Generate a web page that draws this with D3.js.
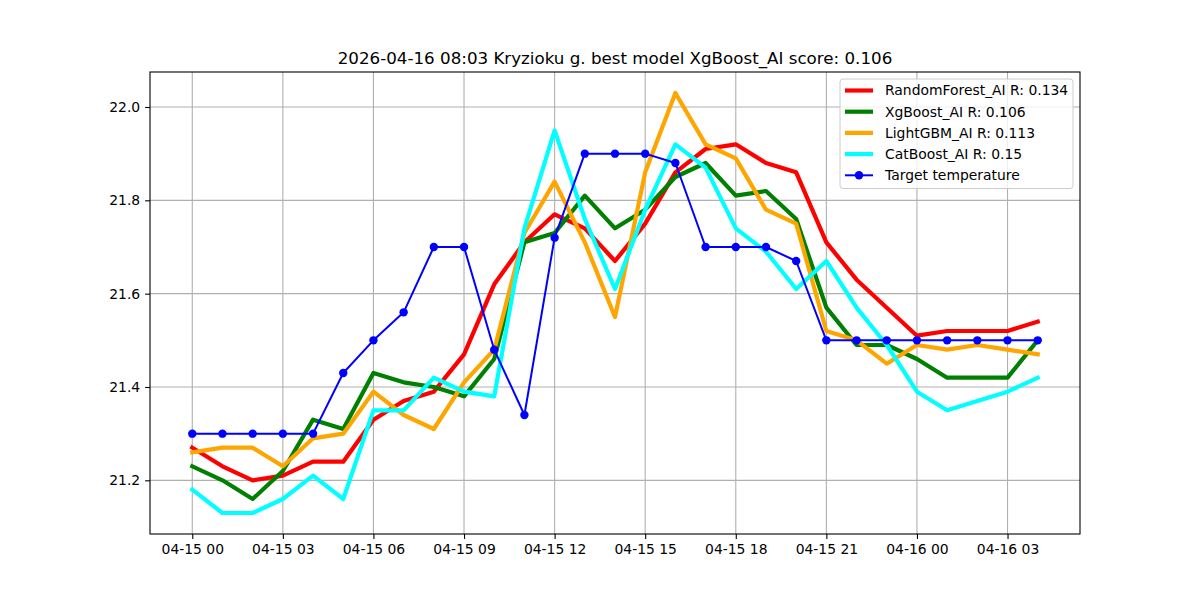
<!DOCTYPE html>
<html>
<head>
<meta charset="utf-8">
<script src="https://cdn.jsdelivr.net/npm/d3@7"></script>
<style>
  body { margin: 0; background: #fff; }
  svg { display: block; font-family: "DejaVu Sans", sans-serif; }
</style>
</head>
<body>
<div id="content"></div>
<script>
const title = '2026-04-16 08:03 Kryzioku g. best model XgBoost_AI score: 0.106'
const startTime = '2026-04-15T00:00:00Z'
const hours = d3.range(29)

const randomForest = [21.27, 21.23, 21.20, 21.21, 21.24, 21.24, 21.33, 21.37, 21.39, 21.47,
    21.62, 21.71, 21.77, 21.74, 21.67, 21.75, 21.86, 21.91, 21.92, 21.88,
    21.86, 21.71, 21.63, 21.57, 21.51, 21.52, 21.52, 21.52, 21.54]
const xgBoost = [21.23, 21.20, 21.16, 21.22, 21.33, 21.31, 21.43, 21.41, 21.40, 21.38,
    21.46, 21.71, 21.73, 21.81, 21.74, 21.78, 21.85, 21.88, 21.81, 21.82,
    21.76, 21.57, 21.49, 21.49, 21.46, 21.42, 21.42, 21.42, 21.50]
const lightGbm = [21.26, 21.27, 21.27, 21.23, 21.29, 21.30, 21.39, 21.34, 21.31, 21.41,
    21.48, 21.73, 21.84, 21.71, 21.55, 21.86, 22.03, 21.92, 21.89, 21.78,
    21.75, 21.52, 21.50, 21.45, 21.49, 21.48, 21.49, 21.48, 21.47]
const catBoost = [21.18, 21.13, 21.13, 21.16, 21.21, 21.16, 21.35, 21.35, 21.42, 21.39,
    21.38, 21.74, 21.95, 21.76, 21.61, 21.78, 21.92, 21.87, 21.74, 21.69,
    21.61, 21.67, 21.57, 21.49, 21.39, 21.35, 21.37, 21.39, 21.42]
const target = [21.30, 21.30, 21.30, 21.30, 21.30, 21.43, 21.50, 21.56, 21.70, 21.70,
    21.48, 21.34, 21.72, 21.90, 21.90, 21.90, 21.88, 21.70, 21.70, 21.70,
    21.67, 21.50, 21.50, 21.50, 21.50, 21.50, 21.50, 21.50, 21.50]

const seriesNames = ['RandomForest_AI R: 0.134', 'XgBoost_AI R: 0.106', 'LightGBM_AI R: 0.113', 'CatBoost_AI R: 0.15', 'Target temperature']
const seriesColors = ['red', 'green', 'orange', 'cyan', 'blue']
const yTicks = [21.2, 21.4, 21.6, 21.8, 22.0]

const width = 1200
const height = 600
const margin = { left: 150, right: 120, top: 72, bottom: 66 }
const fontSize = 13.9

const t0 = new Date(startTime)
const times = hours.map(h => new Date(t0.getTime() + h * 3600 * 1000))

const series = [randomForest, xgBoost, lightGbm, catBoost, target].map((vals, i) => ({
    name: seriesNames[i],
    color: seriesColors[i],
    isTarget: i === 4,
    points: vals.map((v, j) => ({ t: times[j], v: v }))
}))

const svg = d3.select('#content')
    .append('svg')
    .attr('width', width)
    .attr('height', height)

// matplotlib-like 5% padding
const tExt = d3.extent(times)
const tPad = (tExt[1] - tExt[0]) * 0.05
const allVals = [].concat(randomForest, xgBoost, lightGbm, catBoost, target)
const vExt = d3.extent(allVals)
const vPad = (vExt[1] - vExt[0]) * 0.05

const scaleX = d3.scaleUtc()
    .domain([new Date(+tExt[0] - tPad), new Date(+tExt[1] + tPad)])
    .range([margin.left, width - margin.right])

const scaleY = d3.scaleLinear()
    .domain([vExt[0] - vPad, vExt[1] + vPad])
    .range([height - margin.bottom, margin.top])

const xTicks = times.filter((d, i) => i % 3 === 0)
const fmt = d3.utcFormat('%m-%d %H')

// grid
const grid = svg.append('g').attr('id', 'grid')
grid.selectAll('line.gx')
    .data(xTicks)
    .join('line')
    .attr('class', 'gx')
    .attr('x1', d => scaleX(d))
    .attr('x2', d => scaleX(d))
    .attr('y1', margin.top)
    .attr('y2', height - margin.bottom)
    .attr('stroke', '#b0b0b0')
    .attr('stroke-width', 1.1)
grid.selectAll('line.gy')
    .data(yTicks)
    .join('line')
    .attr('class', 'gy')
    .attr('x1', margin.left)
    .attr('x2', width - margin.right)
    .attr('y1', d => scaleY(d))
    .attr('y2', d => scaleY(d))
    .attr('stroke', '#b0b0b0')
    .attr('stroke-width', 1.1)

// lines
const line = d3.line()
    .x(d => scaleX(d.t))
    .y(d => scaleY(d.v))

const plot = svg.append('g').attr('id', 'lines')
series.forEach(s => {
    plot.append('path')
        .datum(s.points)
        .attr('d', line)
        .attr('fill', 'none')
        .attr('stroke', s.color)
        .attr('stroke-width', s.isTarget ? 2 : 4.2)
        .attr('stroke-linejoin', 'round')
        .attr('stroke-linecap', 'square')
    if (s.isTarget) {
        plot.selectAll('circle')
            .data(s.points)
            .join('circle')
            .attr('cx', d => scaleX(d.t))
            .attr('cy', d => scaleY(d.v))
            .attr('r', 4.2)
            .attr('fill', s.color)
    }
})

// axes frame
svg.append('rect')
    .attr('x', margin.left)
    .attr('y', margin.top)
    .attr('width', width - margin.left - margin.right)
    .attr('height', height - margin.top - margin.bottom)
    .attr('fill', 'none')
    .attr('stroke', 'black')
    .attr('stroke-width', 1.1)

const xAxis = svg.append('g')
    .attr('transform', `translate(0, ${height - margin.bottom})`)
    .call(d3.axisBottom(scaleX).tickValues(xTicks).tickFormat(fmt).tickSizeOuter(0).tickSize(4.9).tickPadding(4.9))
xAxis.select('.domain').remove()

const yAxis = svg.append('g')
    .attr('transform', `translate(${margin.left}, 0)`)
    .call(d3.axisLeft(scaleY).tickValues(yTicks).tickFormat(d3.format('.1f')).tickSizeOuter(0).tickSize(4.9).tickPadding(4.9))
yAxis.select('.domain').remove()

svg.selectAll('.tick text')
    .attr('font-family', '"DejaVu Sans", sans-serif')
    .attr('font-size', fontSize)
    .attr('fill', 'black')
svg.selectAll('.tick line')
    .attr('stroke', 'black')
    .attr('stroke-width', 1.1)

// title
svg.append('text')
    .text(title)
    .attr('x', (margin.left + width - margin.right) / 2)
    .attr('y', margin.top - 8)
    .attr('text-anchor', 'middle')
    .attr('font-size', 16.7)
    .attr('fill', 'black')

// legend
const rowH = 21.2
const legendW = 233
const legendX = width - margin.right - 7 - legendW
const legendY = margin.top + 7
const legend = svg.append('g')
    .attr('id', 'legend')
    .attr('transform', `translate(${legendX}, ${legendY})`)

legend.append('rect')
    .attr('width', legendW)
    .attr('height', rowH * seriesNames.length + 3.5)
    .attr('rx', 3)
    .attr('fill', 'white')
    .attr('fill-opacity', 0.8)
    .attr('stroke', '#cccccc')
    .attr('stroke-width', 1)

const rows = legend.selectAll('g.row')
    .data(series)
    .join('g')
    .attr('class', 'row')
    .attr('transform', (d, i) => `translate(0, ${11.5 + i * rowH})`)

rows.append('line')
    .attr('x1', 5)
    .attr('x2', 33)
    .attr('y1', 0)
    .attr('y2', 0)
    .attr('stroke', d => d.color)
    .attr('stroke-width', d => d.isTarget ? 2 : 4.2)
rows.filter(d => d.isTarget)
    .append('circle')
    .attr('cx', 19)
    .attr('cy', 0)
    .attr('r', 4.2)
    .attr('fill', d => d.color)
rows.append('text')
    .text(d => d.name)
    .attr('x', 45)
    .attr('y', 0)
    .attr('dy', '0.35em')
    .attr('font-size', fontSize)
    .attr('fill', 'black')
</script>
</body>
</html>
